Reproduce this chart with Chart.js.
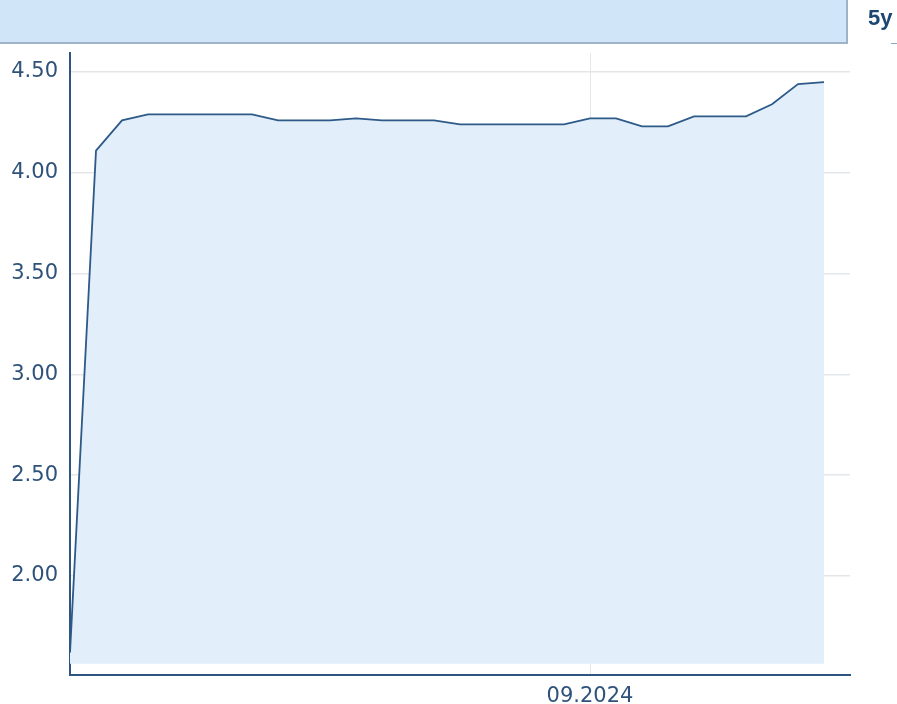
<!DOCTYPE html>
<html>
<head>
<meta charset="utf-8">
<script src="https://cdn.jsdelivr.net/npm/chart.js@4"></script>
<style>
  html, body { margin: 0; padding: 0; background: #fff; }
  #wrap { position: relative; width: 897px; height: 704px; overflow: hidden; }
  #bar {
    position: absolute; left: 0; top: 0; width: 846px; height: 42px;
    background: #d1e5f8; border-right: 2px solid #9fb3c8; border-bottom: 2px solid #9fb3c8;
  }
  #range {
    position: absolute; left: 868px; top: 5px;
    font: bold 22px "Liberation Sans", Arial, sans-serif; color: #1c4772;
  }
  #dash { position: absolute; left: 891px; top: 43px; width: 6px; height: 1px; background: #8fa7c0; }
  #chart { position: absolute; left: 0; top: 0; }
</style>
</head>
<body>
<div id="wrap">
  <canvas id="chart" width="897" height="704"></canvas>
  <div id="bar"></div>
  <div id="range">5y</div>
  <div id="dash"></div>
</div>
<script>
// monthly points, 01.2023 .. 06.2025
var months = [
  '01.2023','02.2023','03.2023','04.2023','05.2023','06.2023','07.2023','08.2023','09.2023','10.2023',
  '11.2023','12.2023','01.2024','02.2024','03.2024','04.2024','05.2024','06.2024','07.2024','08.2024',
  '09.2024','10.2024','11.2024','12.2024','01.2025','02.2025','03.2025','04.2025','05.2025','06.2025'
];
var values = [
  1.62, 4.11, 4.26, 4.29, 4.29, 4.29, 4.29, 4.29, 4.26, 4.26,
  4.26, 4.27, 4.26, 4.26, 4.26, 4.24, 4.24, 4.24, 4.24, 4.24,
  4.27, 4.27, 4.23, 4.23, 4.28, 4.28, 4.28, 4.34, 4.44, 4.45
];
var yTicks = [2.00, 2.50, 3.00, 3.50, 4.00, 4.50];
var xTickLabels = ['09.2024'];

var points = values.map(function (v, i) { return { x: i, y: v }; });
var xTickIdx = xTickLabels.map(function (l) { return months.indexOf(l); });

var textColor = '#2e527a';

new Chart(document.getElementById('chart'), {
  type: 'line',
  data: {
    datasets: [{
      data: points,
      borderColor: '#2d5a88',
      borderWidth: 1.8,
      backgroundColor: '#e2eef9',
      fill: { value: 1.565 },
      pointRadius: 0,
      tension: 0
    }]
  },
  options: {
    responsive: false,
    animation: false,
    layout: { padding: { top: 53, right: 47, left: 0, bottom: 0 } },
    plugins: { legend: { display: false }, tooltip: { enabled: false } },
    scales: {
      x: {
        type: 'linear',
        min: 0,
        max: 30,
        afterBuildTicks: function (axis) {
          axis.ticks = xTickIdx.map(function (i) { return { value: i }; });
        },
        afterFit: function (axis) { axis.height = 29; },
        ticks: {
          autoSkip: false,
          maxRotation: 0,
          padding: 9,
          color: textColor,
          font: { family: 'DejaVu Sans', size: 21 },
          callback: function (v) { return months[v]; }
        },
        grid: { color: '#e4e7ea', lineWidth: 1, drawTicks: false },
        border: { color: '#2e5580', width: 2 }
      },
      y: {
        min: 1.509,
        max: 4.594,
        afterBuildTicks: function (axis) {
          axis.ticks = yTicks.map(function (v) { return { value: v }; });
        },
        afterFit: function (axis) { axis.width = 70; },
        ticks: {
          padding: 12,
          color: textColor,
          font: { family: 'DejaVu Sans', size: 21 },
          callback: function (v) { return v.toFixed(2); }
        },
        grid: { color: '#e4e7ea', lineWidth: 1.5, drawTicks: false },
        border: { color: '#2e5580', width: 2 }
      }
    }
  }
});
</script>
</body>
</html>
